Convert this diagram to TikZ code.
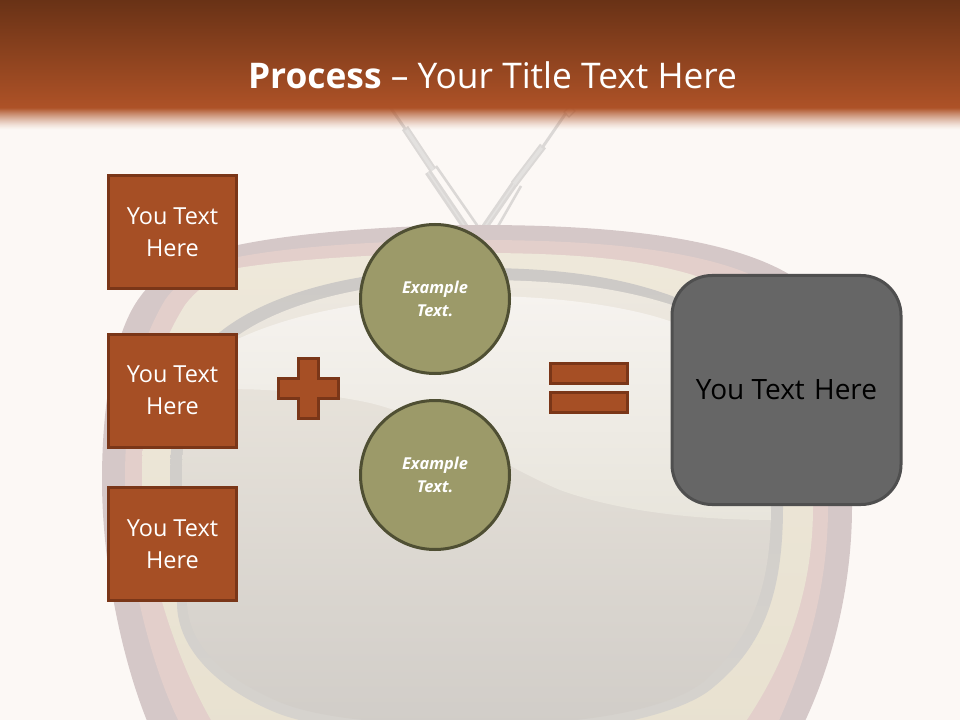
\documentclass[tikz,border=0pt]{standalone}
\usepackage{fontspec}
\setmainfont{Open Sans}
\definecolor{pagebg}{HTML}{FCF8F5}
\definecolor{headtop}{HTML}{693216}
\definecolor{headbot}{HTML}{AE5227}
\definecolor{rust}{HTML}{A64F25}
\definecolor{rustdark}{HTML}{7A3618}
\definecolor{olive}{HTML}{9C9A69}
\definecolor{olivedark}{HTML}{4F4F33}
\definecolor{slatefill}{HTML}{666666}
\definecolor{slateline}{HTML}{4F4F4F}
\definecolor{rod}{HTML}{DBD8D6}
\definecolor{rodlight}{HTML}{E3E1DF}
\definecolor{tvouter}{HTML}{D5C8C8}
\definecolor{tvpink}{HTML}{E3CFCB}
\definecolor{creamtop}{HTML}{EEE8DA}
\definecolor{creammid}{HTML}{FCF9F6}
\definecolor{creambot}{HTML}{E8E1D0}
\definecolor{ringtop}{HTML}{CDCAC7}
\definecolor{ringbot}{HTML}{D6D3CE}
\definecolor{screentop}{HTML}{EEE9E0}
\definecolor{screenmid}{HTML}{E3E0D6}
\definecolor{screenbot}{HTML}{D1CDC8}
\definecolor{glosstop}{HTML}{F6F3EF}
\definecolor{glossbot}{HTML}{E8E5DC}
\tikzset{
  textbox/.style={draw=rustdark,fill=rust,line width=2.25pt,minimum width=96pt,minimum height=84.75pt,inner sep=0pt,
    align=center,text=white,font=\fontsize{17.6}{24}\selectfont},
  roundel/.style={circle,draw=olivedark,fill=olive,line width=2.25pt,minimum size=111.75pt,inner sep=0pt,
    align=center,text=white,font=\fontsize{12.3}{17.25}\selectfont\bfseries\itshape},
  bigbox/.style={draw=slateline,fill=slatefill,line width=2.25pt,rounded corners=30pt,minimum width=171.75pt,minimum height=171.75pt,
    inner sep=0pt,align=center,text=black,font=\fontsize{21}{24}\selectfont},
  symbolshape/.style={draw=rustdark,fill=rust,line width=2.25pt},
  tube/.style={draw=rod,line cap=butt},
  core/.style={draw=rodlight,line cap=butt}
}
\begin{document}
\begin{tikzpicture}[x=0.75pt,y=-0.75pt]
\useasboundingbox (0,0) rectangle (960,720);
\fill[pagebg] (0,0) rectangle (960,720);
\begin{scope}
\clip (0,0) rectangle (960,720);
% antennas
\draw[tube,line width=5.2pt] (466,228) -- (428,172);
\draw[core,line width=1.2pt] (466,228) -- (428,172);
\draw[tube,line width=1.9pt] (479,228) -- (436,166);
\draw[tube,line width=5.6pt] (433,170) -- (405,128);
\draw[core,line width=2.6pt] (433,170) -- (405,128);
\draw[tube,line width=2.2pt] (406,130) -- (388,104);
\draw[tube,line width=5.2pt] (484,228) -- (515,183);
\draw[core,line width=1.2pt] (484,228) -- (515,183);
\draw[tube,line width=1.9pt] (497,228) -- (521,186);
\draw[tube,line width=5.6pt] (514,184) -- (543,146);
\draw[core,line width=2.6pt] (514,184) -- (543,146);
\draw[tube,line width=2.2pt] (542,148) -- (566,113);
\draw[tube,line width=1pt] (564,112) -- (569,117) -- (575,111) -- (570,106) -- cycle;
% television body
\fill[tvouter] (480,225) .. controls (600,225) and (720,235) .. (787,273)
  .. controls (825,300) and (852,420) .. (852,507)
  .. controls (852,590) and (830,680) .. (790,750) -- (160,750)
  .. controls (125,680) and (102,570) .. (102,480)
  .. controls (102,400) and (115,330) .. (140,297)
  .. controls (165,262) and (210,250) .. (238,245)
  .. controls (300,232) and (400,225) .. (480,225) -- cycle;
\fill[tvpink] (480,240) .. controls (600,240) and (690,250) .. (747,273)
  .. controls (790,300) and (828,420) .. (828,507)
  .. controls (828,590) and (805,670) .. (765,750) -- (195,750)
  .. controls (155,690) and (125,570) .. (125,480)
  .. controls (125,410) and (135,350) .. (165,300)
  .. controls (185,272) and (215,262) .. (238,257)
  .. controls (300,245) and (400,240) .. (480,240) -- cycle;
\shade[top color=creamtop,middle color=creammid,bottom color=creambot] (480,253) .. controls (590,253) and (650,262) .. (693,275)
  .. controls (760,300) and (813,420) .. (813,507)
  .. controls (813,600) and (780,680) .. (725,750) -- (230,750)
  .. controls (180,680) and (142,560) .. (142,480)
  .. controls (142,420) and (150,360) .. (185,305)
  .. controls (200,285) and (220,275) .. (238,268)
  .. controls (300,258) and (400,253) .. (480,253) -- cycle;
\shade[top color=ringtop,bottom color=ringbot] (480,268) .. controls (560,268) and (620,277) .. (672,296)
  .. controls (730,320) and (783,420) .. (783,507)
  .. controls (783,600) and (760,650) .. (710,690)
  .. controls (680,713) and (600,735) .. (480,735)
  .. controls (400,735) and (320,730) .. (277,713)
  .. controls (220,690) and (177,650) .. (177,603)
  .. controls (172,560) and (170,520) .. (170,480)
  .. controls (170,410) and (185,365) .. (220,332)
  .. controls (260,300) and (340,268) .. (480,268) -- cycle;
\shade[top color=screentop,middle color=screenmid,bottom color=screenbot] (480,280) .. controls (560,280) and (620,288) .. (672,305)
  .. controls (725,330) and (771,425) .. (771,507)
  .. controls (771,590) and (750,640) .. (703,682)
  .. controls (670,708) and (590,725) .. (480,725)
  .. controls (400,725) and (325,720) .. (282,703)
  .. controls (232,682) and (187,650) .. (187,600)
  .. controls (184,560) and (182,520) .. (182,480)
  .. controls (182,415) and (195,370) .. (232,340)
  .. controls (270,310) and (350,280) .. (480,280) -- cycle;
\shade[top color=glosstop,bottom color=glossbot] (183,392) .. controls (185,365) and (215,345) .. (240,338)
  .. controls (290,315) and (370,296) .. (480,296)
  .. controls (570,296) and (640,310) .. (672,322)
  .. controls (730,360) and (771,440) .. (771,520)
  .. controls (700,520) and (620,512) .. (560,490)
  .. controls (500,465) and (440,420) .. (370,403)
  .. controls (320,392) and (240,385) .. (183,392) -- cycle;
\end{scope}
% title band
\shade[top color=headtop,bottom color=headbot] (0,0) rectangle (960,108);
\foreach \k in {0,...,21}{
  \pgfmathsetmacro{\alphaval}{(1-(\k+0.5)/22)^1.3}
  \fill[headbot,fill opacity=\alphaval] (0,108+\k) rectangle (960,109+\k);
}
\node[text=white,font=\fontsize{26.5}{32}\selectfont,inner sep=0pt] (title) at (492.5,75) {\textbf{Process} – Your Title Text Here};
% content
\node[textbox] (one) at (172.5,232) {You Text\\Here};
\node[textbox] (two) at (172.5,390.5) {You Text\\Here};
\node[textbox] (three) at (172.5,544) {You Text\\Here};
\node[roundel] (ex1) at (435,299) {Example\\Text.};
\node[roundel] (ex2) at (435,475) {Example\\Text.};
\node[bigbox] (result) at (786.5,390) {You Text\hspace{1.5pt} Here};
\draw[symbolshape] (298,358.5) -- (318,358.5) -- (318,378.5) -- (338,378.5) -- (338,398.5) -- (318,398.5) -- (318,418.5) -- (298,418.5) -- (298,398.5) -- (278,398.5) -- (278,378.5) -- (298,378.5) -- cycle;
\draw[symbolshape] (550,363.5) rectangle (627,383.5);
\draw[symbolshape] (550,392.5) rectangle (627,412.5);
\end{tikzpicture}
\end{document}
